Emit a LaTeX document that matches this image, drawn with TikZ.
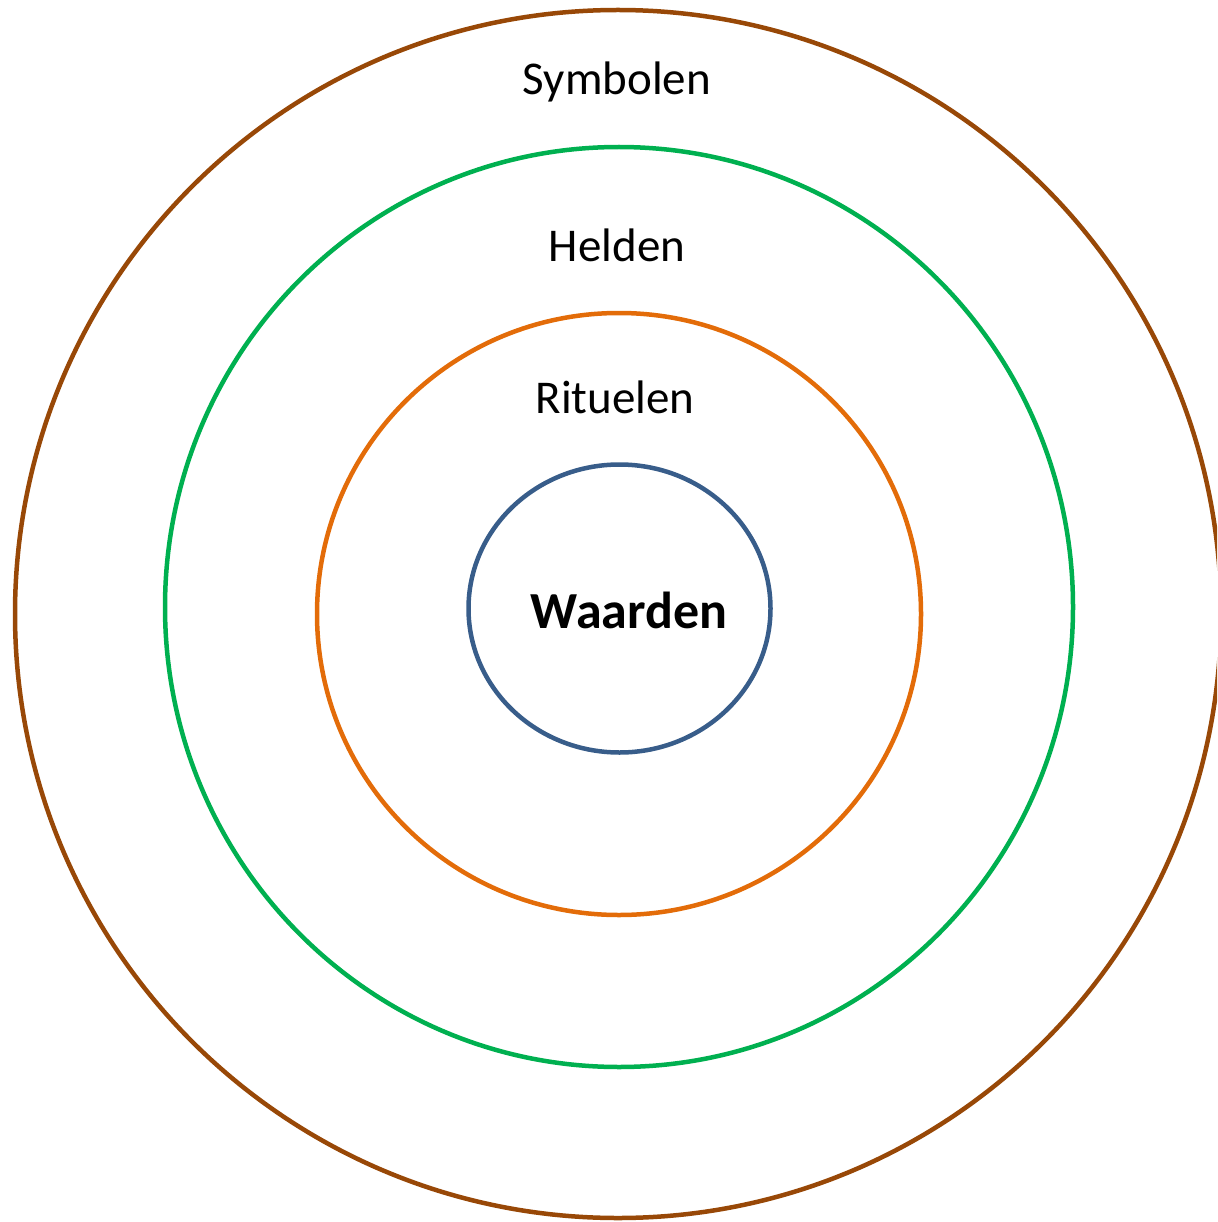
\documentclass[tikz,border=0pt]{standalone}
\usepackage{fontspec}
\setmainfont{Carlito}
\definecolor{cbrown}{HTML}{984807}
\definecolor{cgreen}{HTML}{00B050}
\definecolor{corange}{HTML}{E36C09}
\definecolor{cblue}{HTML}{385D8A}
\begin{document}
\begin{tikzpicture}[x=1pt,y=-1pt,
  ring/.style={line width=4.5pt},
  lbl/.style={font=\fontsize{47}{56}\selectfont, anchor=base, inner sep=0pt}]
\useasboundingbox (0,0) rectangle (1217,1222);
\clip (0,0) rectangle (1217,1222);
\draw[ring, cbrown] (618,614) ellipse [x radius=603, y radius=604];
\draw[ring, cgreen] (619,607) ellipse [x radius=454, y radius=460];
\draw[ring, corange] (619,614) ellipse [x radius=302, y radius=301];
\draw[ring, cblue] (619.5,608.5) ellipse [x radius=151, y radius=144];
\node[lbl] (symbolen) at (617,95) {Symbolen};
\node[lbl] (helden) at (617,262) {Helden};
\node[lbl] (rituelen) at (615,413) {Rituelen};
\node[lbl, font=\fontsize{52}{60}\selectfont\bfseries] (waarden) at (629,628) {Waarden};
\end{tikzpicture}
\end{document}
